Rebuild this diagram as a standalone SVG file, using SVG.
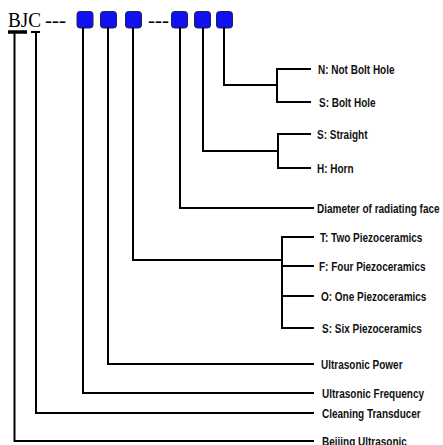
<svg xmlns="http://www.w3.org/2000/svg" width="443" height="445" viewBox="0 0 443 445">
<style>
.ln{fill:none;stroke:#000;stroke-width:2;stroke-linejoin:miter;stroke-linecap:square}
.lb{font-family:"Liberation Sans",Arial,sans-serif;font-weight:bold;font-size:12.5px;fill:#111}
.sq{fill:#1010F0;stroke:#202050;stroke-width:1}
.code{font-family:"Liberation Serif","Times New Roman",serif;font-size:21px;fill:#000}
</style>
<rect width="443" height="445" fill="#fff"/>
<g id="code">
<text class="code" x="8" y="27" textLength="33" lengthAdjust="spacingAndGlyphs">BJC</text>
<text class="code" x="45" y="27" font-size="18">---</text>
<text class="code" x="148" y="27" font-size="18">---</text>
</g>
<g id="boxes">
<rect class="sq" x="77" y="11.5" width="16" height="16.5" rx="3"/>
<rect class="sq" x="100.5" y="11.5" width="16" height="16.5" rx="3"/>
<rect class="sq" x="125.5" y="11.5" width="16" height="16.5" rx="3"/>
<rect class="sq" x="171.5" y="11.5" width="16" height="16.5" rx="3"/>
<rect class="sq" x="194.5" y="11.5" width="16" height="16.5" rx="3"/>
<rect class="sq" x="216.5" y="11.5" width="16" height="16.5" rx="3"/>
</g>
<g id="connectors">
<line x1="8" y1="32" x2="27" y2="32" stroke="#000" stroke-width="3.5"/>
<line x1="31" y1="32" x2="40" y2="32" stroke="#000" stroke-width="2"/>
<path class="ln" d="M14.5 32 V441 H313"/>
<path class="ln" d="M36 32 V413 H313"/>
<path class="ln" d="M83 28 V393 H313"/>
<path class="ln" d="M108 28 V364 H313"/>
<path class="ln" d="M133 28 V260 H282"/>
<path class="ln" d="M282 237 V328"/>
<path class="ln" d="M282 237 H313 M282 266 H313 M282 296 H313 M282 328 H313"/>
<path class="ln" d="M180 28 V208 H313"/>
<path class="ln" d="M203 28 V151 H278"/>
<path class="ln" d="M278 134 V168 M278 134 H310 M278 168 H310"/>
<path class="ln" d="M224 28 V85 H277"/>
<path class="ln" d="M277 69 V102 M277 69 H310 M277 102 H310"/>
</g>
<g id="labels">
<text class="lb" transform="translate(318 73.5) scale(0.8 1)">N: Not Bolt Hole</text>
<text class="lb" transform="translate(319 106.5) scale(0.8 1)">S: Bolt Hole</text>
<text class="lb" transform="translate(317 138.5) scale(0.8 1)">S: Straight</text>
<text class="lb" transform="translate(317 172.5) scale(0.8 1)">H: Horn</text>
<text class="lb" transform="translate(317 212.5) scale(0.8 1)">Diameter of radiating face</text>
<text class="lb" transform="translate(320 241.5) scale(0.8 1)">T: Two Piezoceramics</text>
<text class="lb" transform="translate(319 270.5) scale(0.8 1)">F: Four Piezoceramics</text>
<text class="lb" transform="translate(321 300.5) scale(0.8 1)">O: One Piezoceramics</text>
<text class="lb" transform="translate(322 332.5) scale(0.8 1)">S: Six Piezoceramics</text>
<text class="lb" transform="translate(321 368.5) scale(0.8 1)">Ultrasonic Power</text>
<text class="lb" transform="translate(322 397.5) scale(0.8 1)">Ultrasonic Frequency</text>
<text class="lb" transform="translate(322 417.5) scale(0.8 1)">Cleaning Transducer</text>
<text class="lb" transform="translate(322 445.5) scale(0.8 1)">Beijing Ultrasonic</text>
</g>
</svg>
